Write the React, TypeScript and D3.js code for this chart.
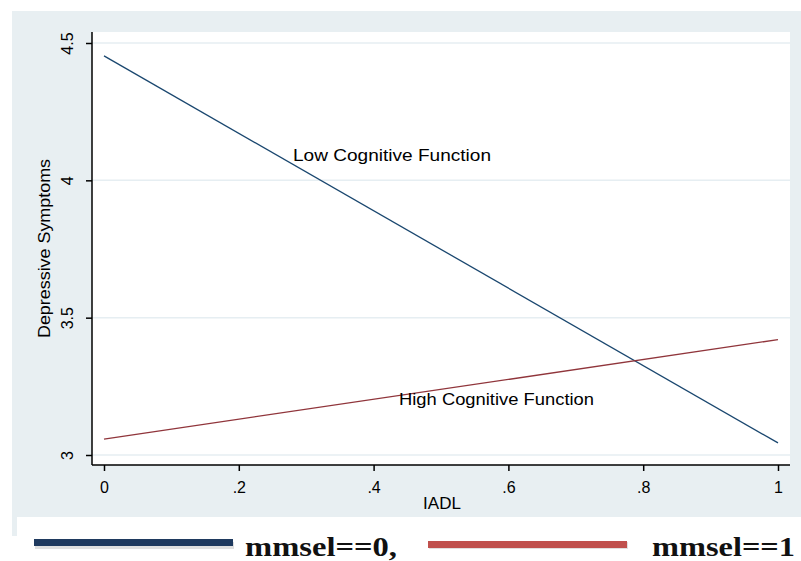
import React, { useEffect, useRef } from 'react';
import * as d3 from 'd3';

// IADL values at the two ends of each fitted line
const iadl = [0, 1];
const lowCognitive = [4.453, 3.044];
const highCognitive = [3.058, 3.42];

const xTicks = [0, 0.2, 0.4, 0.6, 0.8, 1];
const xTickLabels = ['0', '.2', '.4', '.6', '.8', '1'];
const yTicks = [3, 3.5, 4, 4.5];
const yTickLabels = ['3', '3.5', '4', '4.5'];

const legendLabels = ['mmsel==0,', 'mmsel==1'];

const App = () => {
    const svgRef = useRef<SVGSVGElement>(null);

    useEffect(() => {
        const width = 801;
        const height = 561;
        const svg = d3.select(svgRef.current);
        svg.selectAll('*').remove();
        svg.attr('width', width).attr('height', height);

        // Outer graph region
        svg.append('rect').attr('width', width).attr('height', height).attr('fill', '#ffffff');
        svg.append('rect')
            .attr('x', 12).attr('y', 11).attr('width', 789).attr('height', 506)
            .attr('fill', '#e8eff2');
        svg.append('rect')
            .attr('x', 12).attr('y', 517).attr('width', 5).attr('height', 19)
            .attr('fill', '#e8eff2');

        // Plot region
        const left = 92, right = 790, top = 32, bottom = 465;
        svg.append('rect')
            .attr('x', left).attr('y', top).attr('width', right - left).attr('height', bottom - top)
            .attr('fill', '#ffffff');

        const x = d3.scaleLinear().domain([0, 1]).range([104, 778]);
        const y = d3.scaleLinear().domain([3, 4.5]).range([455, 43]);

        // Gridlines
        svg.append('g').selectAll('line')
            .data(yTicks)
            .enter()
            .append('line')
            .attr('x1', left).attr('x2', right)
            .attr('y1', d => y(d)).attr('y2', d => y(d))
            .attr('stroke', '#e6eef2').attr('stroke-width', 1.5);

        // Axes
        const font = 'Liberation Sans, Arial, sans-serif';
        const yAxis = svg.append('g')
            .attr('transform', `translate(${left},0)`)
            .call(d3.axisLeft(y).tickValues(yTicks).tickSize(6).tickPadding(0)
                .tickFormat((d, i) => yTickLabels[i]));
        yAxis.select('.domain').attr('d', `M0,${top}V${bottom}`).attr('stroke', '#000').attr('stroke-width', 1.5);
        yAxis.selectAll('.tick line').attr('stroke-width', 1.5);
        yAxis.selectAll('.tick text')
            .attr('transform', 'rotate(-90)')
            .attr('x', 0).attr('y', -19).attr('dy', 0)
            .attr('text-anchor', 'middle')
            .attr('font-family', font).attr('font-size', 16).attr('fill', '#000');

        const xAxis = svg.append('g')
            .attr('transform', `translate(0,${bottom})`)
            .call(d3.axisBottom(x).tickValues(xTicks).tickSize(6)
                .tickFormat((d, i) => xTickLabels[i]));
        xAxis.select('.domain').attr('d', `M${left},0H${right}`).attr('stroke', '#000').attr('stroke-width', 1.5);
        xAxis.selectAll('.tick line').attr('stroke-width', 1.5);
        xAxis.selectAll('.tick text')
            .attr('y', 28).attr('dy', 0)
            .attr('font-family', font).attr('font-size', 16).attr('fill', '#000');

        // Axis titles
        svg.append('text')
            .attr('x', 442).attr('y', 509)
            .attr('text-anchor', 'middle')
            .attr('font-family', font).attr('font-size', 17)
            .text('IADL');
        svg.append('text')
            .attr('transform', `translate(50,${(top + bottom) / 2}) rotate(-90)`)
            .attr('text-anchor', 'middle')
            .attr('font-family', font).attr('font-size', 17)
            .attr('textLength', 179).attr('lengthAdjust', 'spacingAndGlyphs')
            .text('Depressive Symptoms');

        // Fitted lines
        const line = d3.line<number>().x((d, i) => x(iadl[i])).y(d => y(d));
        svg.append('path').attr('d', line(lowCognitive))
            .attr('fill', 'none').attr('stroke', '#1a476f').attr('stroke-width', 1.3);
        svg.append('path').attr('d', line(highCognitive))
            .attr('fill', 'none').attr('stroke', '#90353b').attr('stroke-width', 1.3);

        // Line labels
        svg.append('text')
            .attr('x', 293).attr('y', 161)
            .attr('font-family', font).attr('font-size', 17)
            .attr('textLength', 198).attr('lengthAdjust', 'spacingAndGlyphs')
            .text('Low Cognitive Function');
        svg.append('text')
            .attr('x', 399).attr('y', 405)
            .attr('font-family', font).attr('font-size', 17)
            .attr('textLength', 195).attr('lengthAdjust', 'spacingAndGlyphs')
            .text('High Cognitive Function');

        // Legend below the graph
        const legendColors = ['#1f3a5f', '#c0504d'];
        const legendX = [34, 428];
        const legendTextX = [245, 652];
        const legendTextLen = [152, 143];
        legendLabels.forEach((label, i) => {
            svg.append('rect')
                .attr('x', legendX[i] + 1).attr('y', 542).attr('width', 199).attr('height', 7)
                .attr('fill', '#999').attr('opacity', 0.3);
            svg.append('rect')
                .attr('x', legendX[i]).attr('y', 539 + i * 2).attr('width', 199).attr('height', 7)
                .attr('fill', legendColors[i]);
            svg.append('text')
                .attr('x', legendTextX[i]).attr('y', 556)
                .attr('font-family', 'Liberation Serif, Times New Roman, serif')
                .attr('font-weight', 'bold').attr('font-size', 28)
                .attr('textLength', legendTextLen[i]).attr('lengthAdjust', 'spacingAndGlyphs')
                .attr('fill', '#111')
                .text(label);
        });
    }, []);

    return <svg ref={svgRef} style={{ position: 'absolute', left: 0, top: 0 }}></svg>;
};

export default App;
